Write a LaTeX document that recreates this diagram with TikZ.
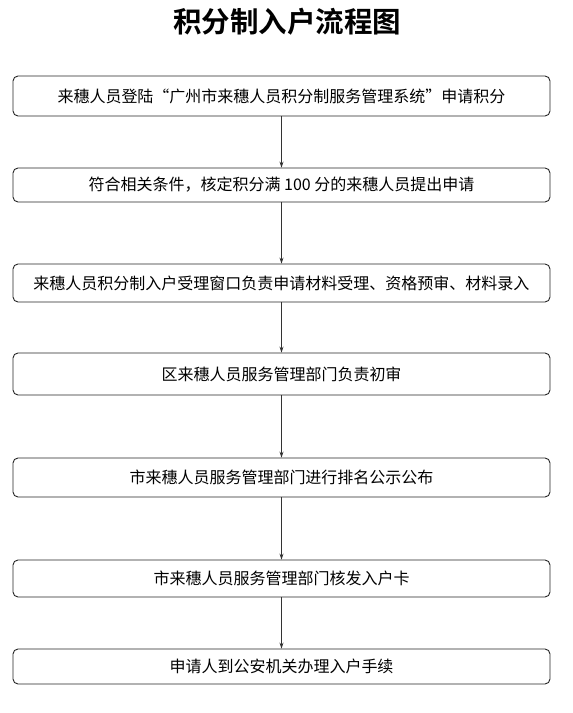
\documentclass[tikz,border=0pt]{standalone}
\usepackage{fontspec}
\newfontfamily\cjk{Noto Sans CJK SC}
\newfontfamily\cjkbold{Noto Sans CJK SC Bold}
\usetikzlibrary{arrows.meta}
\begin{document}
\begin{tikzpicture}[x=1pt,y=1pt,
  stepbox/.style={draw=black!85, line width=0.9pt, rounded corners=5pt, minimum width=537pt, inner sep=0pt, font=\cjk\fontsize{16}{18}\selectfont, text=black},
  flow/.style={draw=black!80, line width=0.8pt, -{Stealth[length=6pt,width=4pt]}}]
\useasboundingbox (0,0) rectangle (573,713);
\fill[white] (0,0) rectangle (573,713);
\node[font=\cjkbold\fontsize{28.5}{32}\selectfont] (title) at (287,691) {积分制入户流程图};
\node[stepbox, minimum height=40pt] (b1) at (281.5,617) {来穗人员登陆“广州市来穗人员积分制服务管理系统”申请积分};
\node[stepbox, minimum height=34pt] (b2) at (281.5,528) {符合相关条件，核定积分满 100 分的来穗人员提出申请};
\node[stepbox, minimum height=38pt] (b3) at (281.5,430) {来穗人员积分制入户受理窗口负责申请材料受理、资格预审、材料录入};
\node[stepbox, minimum height=42pt] (b4) at (281.5,339) {区来穗人员服务管理部门负责初审};
\node[stepbox, minimum height=39pt] (b5) at (281.5,235.5) {市来穗人员服务管理部门进行排名公示公布};
\node[stepbox, minimum height=37pt] (b6) at (281.5,134.5) {市来穗人员服务管理部门核发入户卡};
\node[stepbox, minimum height=35pt] (b7) at (281.5,46.5) {申请人到公安机关办理入户手续};
\draw[flow] (b1) -- (b2);
\draw[flow] (b2) -- (b3);
\draw[flow] (b3) -- (b4);
\draw[flow] (b4) -- (b5);
\draw[flow] (b5) -- (b6);
\draw[flow] (b6) -- (b7);
\end{tikzpicture}
\end{document}
